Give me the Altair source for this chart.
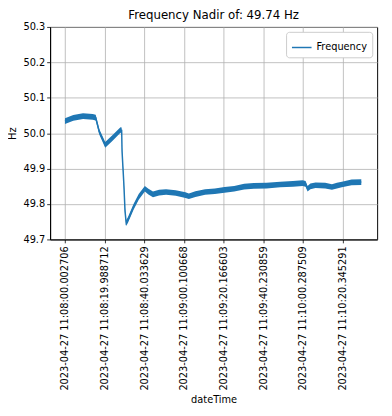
import altair as alt
import pandas as pd

# seconds after 11:08:00 and frequency in Hz
t_sec = [0, 4.2, 9.1, 14, 15.5, 17.3, 20.3, 23.9, 28, 28.6, 28.8, 29.7, 30.3, 30.9, 31.8,
         34.6, 37.2, 40.3, 42.1, 44.4, 47.5, 51, 55.9, 60.8, 62.5, 65.8, 70.7, 75.6, 80.5,
         85.4, 90.4, 95.3, 101.7, 108.6, 115, 119.9, 121.4, 122.4, 123.8, 126.4, 131.3,
         134.7, 137.2, 139.7, 144.6, 149.5]
freq = [50.034, 50.043, 50.048, 50.046, 50.044, 50.004, 49.967, 49.986, 50.009, 50.008,
        49.949, 49.857, 49.78, 49.746, 49.755, 49.792, 49.82, 49.843, 49.835, 49.827,
        49.832, 49.834, 49.831, 49.825, 49.822, 49.828, 49.834, 49.836, 49.840, 49.843,
        49.849, 49.851, 49.852, 49.855, 49.857, 49.859, 49.857, 49.843, 49.85, 49.853,
        49.852, 49.848, 49.852, 49.855, 49.861, 49.862]
tick_pos = [0, 20, 40, 60, 80, 100, 120, 140]
tick_labels = ["2023-04-27 11:08:00.002706", "2023-04-27 11:08:19.988712",
               "2023-04-27 11:08:40.033629", "2023-04-27 11:09:00.100668",
               "2023-04-27 11:09:20.166603", "2023-04-27 11:09:40.230859",
               "2023-04-27 11:10:00.287509", "2023-04-27 11:10:20.345291"]
y_ticks = [49.7, 49.8, 49.9, 50.0, 50.1, 50.2, 50.3]

noise = 0.008
df = pd.DataFrame({"t": t_sec, "f": freq})
df["lo"] = df["f"] - noise
df["hi"] = df["f"] + noise
df["series"] = "Frequency"

label_expr = "[" + ",".join("'%s'" % s for s in tick_labels) + "][round(datum.value/20)]"

x = alt.X("t:Q", title="dateTime",
          scale=alt.Scale(domain=[-7.5, 157.5], nice=False, zero=False),
          axis=alt.Axis(values=tick_pos, labelExpr=label_expr, labelAngle=-90,
                        labelAlign="right", labelBaseline="middle", labelPadding=3,
                        titlePadding=4))
y_scale = alt.Scale(domain=[49.7, 50.3], nice=False, zero=False)
y_axis = alt.Axis(values=y_ticks, format=".1f", titlePadding=6, labelOverlap=False)
color = alt.Color("series:N", scale=alt.Scale(range=["#1f77b4"]),
                  legend=alt.Legend(title=None, orient="top-right"))

band = alt.Chart(df).mark_area(opacity=1, color="#1f77b4").encode(
    x=x,
    y=alt.Y("lo:Q", scale=y_scale, title="Hz", axis=y_axis),
    y2="hi:Q",
)
line = alt.Chart(df).mark_line(strokeWidth=1.5).encode(
    x=x,
    y=alt.Y("f:Q", scale=y_scale, title="Hz", axis=y_axis),
    color=color,
)

chart = (band + line).properties(
    width=334, height=217,
    autosize=alt.AutoSizeParams(type="none"),
    padding={"left": 43, "top": 15, "right": 7, "bottom": 176},
    title=alt.Title("Frequency Nadir of: 49.74 Hz", fontSize=12, fontWeight="normal",
                    font="DejaVu Sans", color="black", offset=0),
).configure_view(
    stroke="black", strokeWidth=1
).configure_axis(
    labelFont="DejaVu Sans", titleFont="DejaVu Sans", labelFontSize=10, titleFontSize=10,
    labelColor="black", titleColor="black", titleFontWeight="normal",
    gridColor="#b0b0b0", gridWidth=0.8, gridOpacity=1,
    domainColor="black", tickColor="black", tickSize=3.5, tickWidth=0.8,
).configure_legend(
    labelFont="DejaVu Sans", labelFontSize=10, labelColor="black",
    symbolType="stroke", symbolSize=400, symbolStrokeWidth=1.5,
    strokeColor="#cccccc", fillColor="white", padding=5, cornerRadius=3, offset=5,
)

chart.save("out.html", embed_options={"renderer": "svg", "actions": False})
